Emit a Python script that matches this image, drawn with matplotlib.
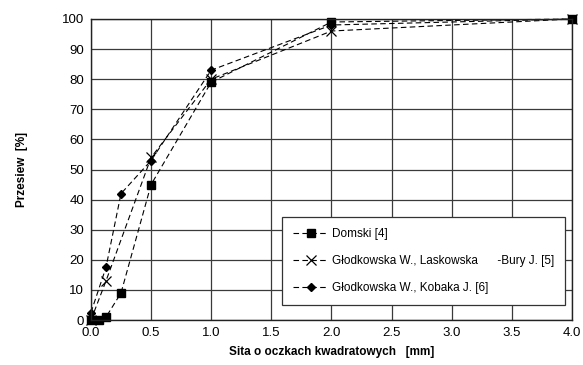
import matplotlib
matplotlib.use("Agg")
import matplotlib.pyplot as plt
from matplotlib.ticker import MultipleLocator

plt.rcParams['font.family'] = ['Liberation Sans', 'DejaVu Sans']

# sieve mesh sizes [mm] and passing percentages
x_domski = [0.0, 0.063, 0.125, 0.25, 0.5, 1.0, 2.0, 4.0]
y_domski = [0.0, 0.0, 1.0, 9.0, 45.0, 79.0, 99.0, 100.0]

x_laskowska = [0.0, 0.125, 0.5, 1.0, 2.0, 4.0]
y_laskowska = [0.0, 13.0, 54.0, 80.0, 96.0, 100.0]

x_kobaka = [0.0, 0.125, 0.25, 0.5, 1.0, 2.0, 4.0]
y_kobaka = [2.5, 17.5, 42.0, 53.0, 83.0, 98.0, 100.0]

labels = ["Domski [4]",
          "Głodkowska W., Laskowska      -Bury J. [5]",
          "Głodkowska W., Kobaka J. [6]"]

fig = plt.figure(figsize=(5.83, 3.65), dpi=100)
ax = fig.add_axes([0.156, 0.123, 0.825, 0.825])

line_kw = dict(color='black', linestyle=(0, (5, 3)), linewidth=0.8, clip_on=False)
ax.plot(x_domski, y_domski, marker='s', markersize=5.5, label=labels[0], **line_kw)
ax.plot(x_laskowska, y_laskowska, marker='x', markersize=7, markeredgewidth=0.9,
        label=labels[1], **line_kw)
ax.plot(x_kobaka, y_kobaka, marker='D', markersize=4.5, label=labels[2], **line_kw)

ax.set_xlim(0, 4.0)
ax.set_ylim(0, 100)
ax.xaxis.set_major_locator(MultipleLocator(0.5))
ax.yaxis.set_major_locator(MultipleLocator(10))
ax.xaxis.set_major_formatter(matplotlib.ticker.FormatStrFormatter('%.1f'))
ax.grid(True, color='#3a3a3a', linewidth=0.9)
ax.set_axisbelow(True)
for s in ax.spines.values():
    s.set_color('#222222')
    s.set_linewidth(1.0)
ax.tick_params(length=0, labelsize=9.5, pad=5)

ax.set_xlabel('Sita o oczkach kwadratowych   [mm]', fontsize=8.5, fontweight='bold', labelpad=5)
ax.set_ylabel('Przesiew  [%]', fontsize=8.5, fontweight='bold', labelpad=24)

leg = ax.legend(loc='lower right', bbox_to_anchor=(0.985, 0.05), fontsize=8.5,
                frameon=True, fancybox=False, edgecolor='#333333', framealpha=1,
                handlelength=3.0, handletextpad=0.3, labelspacing=1.3,
                borderpad=0.9, borderaxespad=0)
leg.get_frame().set_linewidth(0.9)
leg.set_zorder(5)

fig.savefig('out.png', dpi=100)
